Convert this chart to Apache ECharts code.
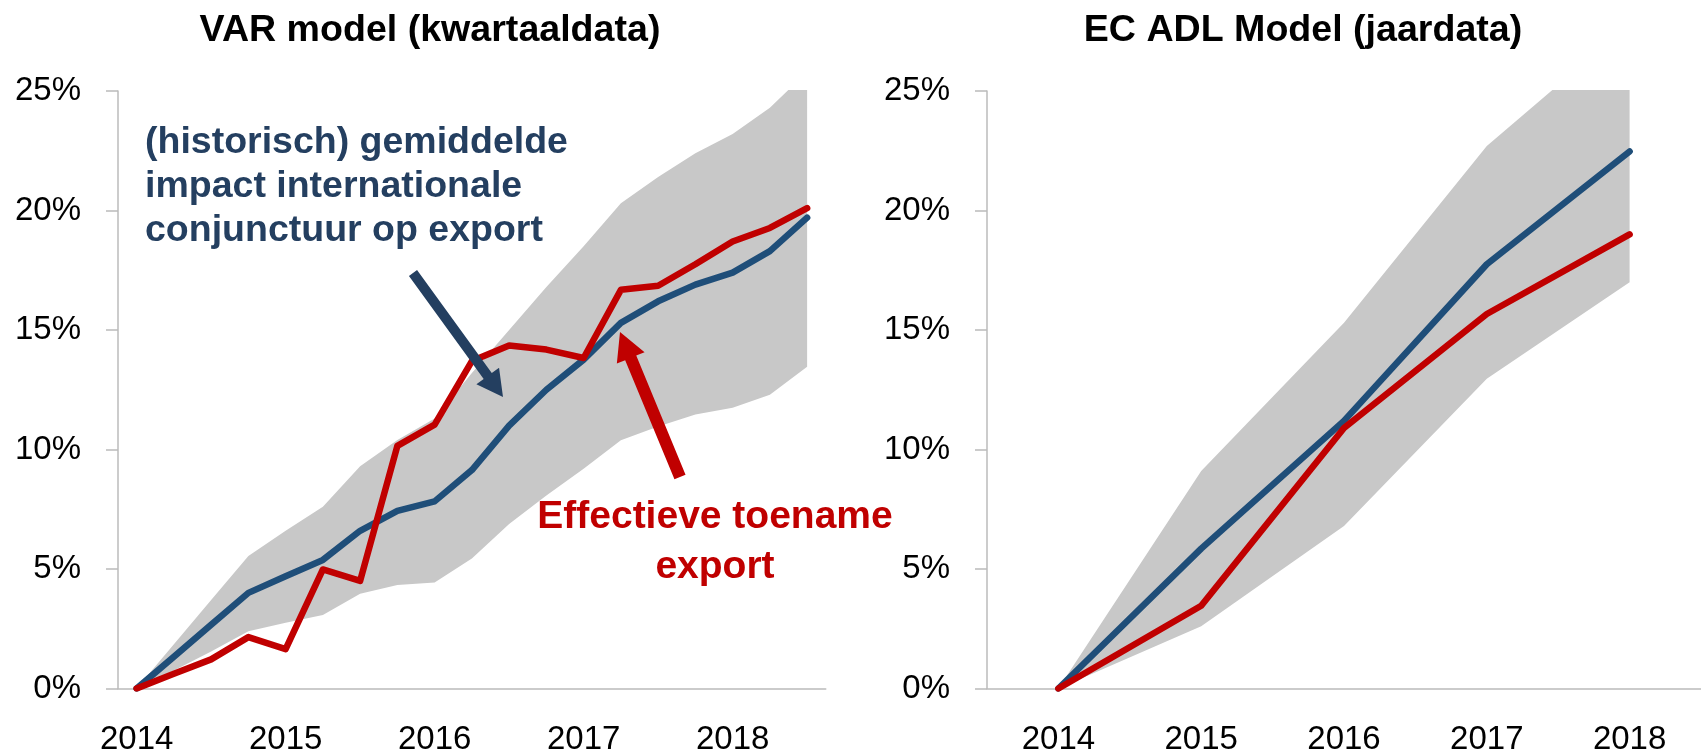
<!DOCTYPE html>
<html>
<head>
  <meta charset="utf-8">
  <title>VAR / EC ADL</title>
  <script src="https://cdn.jsdelivr.net/npm/echarts@6/dist/echarts.min.js"></script>
  <style>
    html, body { margin: 0; padding: 0; background: #fff; }
    #main { width: 1701px; height: 756px; }
  </style>
</head>
<body>
  <div id="main"></div>
  <script>
    // VAR model, quarterly
    var quarters = ['2014K1', '2014K2', '2014K3', '2014K4', '2015K1', '2015K2', '2015K3', '2015K4',
      '2016K1', '2016K2', '2016K3', '2016K4', '2017K1', '2017K2', '2017K3', '2017K4',
      '2018K1', '2018K2', '2018K3'];
    var varExport = [0, 0.62, 1.22, 2.15, 1.65, 4.98, 4.5, 10.15, 11.04, 13.7, 14.35, 14.18, 13.83, 16.68, 16.85, 17.75, 18.7, 19.27, 20.1];
    var varImpact = [0, 1.33, 2.67, 4.0, 4.7, 5.38, 6.6, 7.43, 7.83, 9.14, 11.0, 12.5, 13.76, 15.3, 16.2, 16.9, 17.4, 18.3, 19.7];
    var varUpper = [0, 1.85, 3.7, 5.54, 6.6, 7.6, 9.3, 10.4, 11.3, 13.2, 15.0, 16.8, 18.5, 20.3, 21.4, 22.4, 23.2, 24.3, 25.8];
    var varLower = [0, 0.75, 1.55, 2.4, 2.75, 3.08, 3.96, 4.33, 4.44, 5.44, 6.88, 8.08, 9.19, 10.39, 10.96, 11.46, 11.75, 12.29, 13.46];

    // EC ADL model, yearly
    var years = ['2014', '2015', '2016', '2017', '2018'];
    var ecExport = [0, 3.46, 10.9, 15.67, 19.0];
    var ecImpact = [0, 5.85, 11.2, 17.75, 22.47];
    var ecUpper = [0, 9.1, 15.3, 22.7, 27.8];
    var ecLower = [0, 2.6, 6.8, 12.96, 17.0];

    var yTicks = { min: 0, max: 25, interval: 5 };

    var blue = '#1F4E79';
    var red = '#C00000';
    var band = '#C8C8C8';
    var axisGrey = '#BBBBBB';
    var font = '"Liberation Sans", Arial, sans-serif';

    function diff(a, b) {
      var out = [];
      for (var i = 0; i < a.length; i++) out.push(+(a[i] - b[i]).toFixed(3));
      return out;
    }

    function arrow(x1, y1, x2, y2, w, hl, hw, color) {
      var dx = x2 - x1, dy = y2 - y1;
      var L = Math.sqrt(dx * dx + dy * dy);
      var ux = dx / L, uy = dy / L;
      var px = -uy, py = ux;
      var bx = x2 - ux * hl, by = y2 - uy * hl;
      return {
        type: 'polygon',
        shape: {
          points: [
            [x1 + px * w / 2, y1 + py * w / 2],
            [bx + px * w / 2, by + py * w / 2],
            [bx + px * hw / 2, by + py * hw / 2],
            [x2, y2],
            [bx - px * hw / 2, by - py * hw / 2],
            [bx - px * w / 2, by - py * w / 2],
            [x1 - px * w / 2, y1 - py * w / 2]
          ]
        },
        style: { fill: color },
        z: 20
      };
    }

    function xAxisFor(idx, cats, interval) {
      return {
        type: 'category',
        gridIndex: idx,
        data: cats,
        boundaryGap: true,
        axisLine: { lineStyle: { color: axisGrey, width: 1.5 } },
        axisTick: { show: false },
        axisLabel: {
          interval: interval,
          margin: 34.5,
          fontSize: 33,
          fontFamily: font,
          color: '#000',
          formatter: function (v) { return v.slice(0, 4); }
        },
        splitLine: { show: false }
      };
    }

    function yAxisFor(idx) {
      return {
        type: 'value',
        gridIndex: idx,
        min: yTicks.min,
        max: yTicks.max,
        interval: yTicks.interval,
        axisLine: { show: true, lineStyle: { color: axisGrey, width: 1.5 } },
        axisTick: { show: true, inside: false, length: 12, lineStyle: { color: axisGrey, width: 1.5 } },
        axisLabel: { margin: 37, fontSize: 33, fontFamily: font, color: '#000', formatter: '{value}%' },
        splitLine: { show: false }
      };
    }

    function lineSeries(idx, data, color, z) {
      return {
        type: 'line',
        xAxisIndex: idx,
        yAxisIndex: idx,
        data: data,
        showSymbol: false,
        symbol: 'none',
        lineStyle: { color: color, width: 6.5, cap: 'round', join: 'round' },
        z: z,
        silent: true
      };
    }

    function bandSeries(idx, lower, upper, stackName) {
      return [{
        type: 'line',
        xAxisIndex: idx,
        yAxisIndex: idx,
        data: lower,
        stack: stackName,
        symbol: 'none',
        lineStyle: { opacity: 0 },
        z: 1,
        silent: true
      }, {
        type: 'line',
        xAxisIndex: idx,
        yAxisIndex: idx,
        data: diff(upper, lower),
        stack: stackName,
        symbol: 'none',
        lineStyle: { opacity: 0 },
        areaStyle: { color: band, opacity: 1 },
        z: 1,
        silent: true
      }];
    }

    var chart = echarts.init(document.getElementById('main'), null, { renderer: 'canvas' });

    var series = []
      .concat(bandSeries(0, varLower, varUpper, 'varBand'))
      .concat([lineSeries(0, varImpact, blue, 3), lineSeries(0, varExport, red, 4)])
      .concat(bandSeries(1, ecLower, ecUpper, 'ecBand'))
      .concat([lineSeries(1, ecImpact, blue, 3), lineSeries(1, ecExport, red, 4)]);

    var option = {
      animation: false,
      backgroundColor: '#fff',
      grid: [
        { left: 118, top: 91, width: 707.75, height: 600 },
        { left: 987, top: 91, width: 721.5, height: 600 }
      ],
      xAxis: [xAxisFor(0, quarters, 3), xAxisFor(1, years, 0)],
      yAxis: [yAxisFor(0), yAxisFor(1)],
      series: series,
      graphic: [
        {
          type: 'text', x: 430, y: 31, z: 20,
          style: { text: 'VAR model (kwartaaldata)', font: 'bold 37.6px ' + font, fill: '#000', align: 'center', verticalAlign: 'middle' }
        },
        {
          type: 'text', x: 1303, y: 31, z: 20,
          style: { text: 'EC ADL Model (jaardata)', font: 'bold 37.6px ' + font, fill: '#000', align: 'center', verticalAlign: 'middle' }
        },
        {
          type: 'text', x: 145, y: 121, z: 20,
          style: {
            text: '(historisch) gemiddelde\nimpact internationale\nconjunctuur op export',
            font: 'bold 37.5px ' + font, fill: '#243F60', align: 'left', verticalAlign: 'top', lineHeight: 44
          }
        },
        {
          type: 'text', x: 715, y: 492, z: 20,
          style: {
            text: 'Effectieve toename\nexport',
            font: 'bold 39px ' + font, fill: red, align: 'center', verticalAlign: 'top', lineHeight: 50
          }
        },
        arrow(413, 273, 503, 397, 10, 26, 28, '#243F60'),
        arrow(680, 477, 620, 332, 12, 28, 30, red)
      ]
    };

    chart.setOption(option);
  </script>
</body>
</html>
